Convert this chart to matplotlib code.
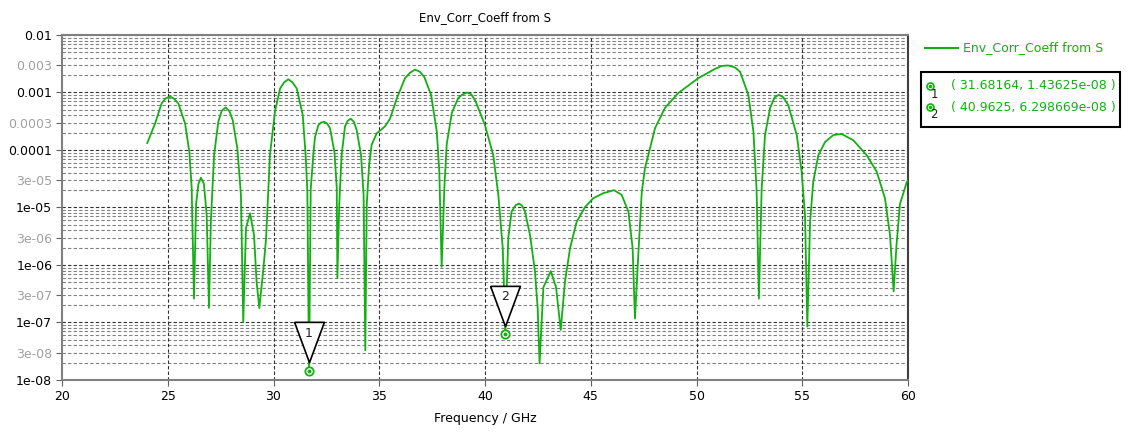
import matplotlib
matplotlib.use("Agg")
import matplotlib.pyplot as plt
from matplotlib.lines import Line2D
from matplotlib.transforms import offset_copy

# === data ===
freq = [24.03, 24.40, 24.71, 24.90, 25.11, 25.30, 25.50, 25.82, 26.02, 26.13, 26.24, 26.34,
        26.45, 26.57, 26.71, 26.84, 26.95, 27.04, 27.19, 27.39, 27.55, 27.74, 27.92, 28.07,
        28.29, 28.46, 28.57, 28.70, 28.89, 29.08, 29.20, 29.33, 29.52, 29.65,
        29.83, 30.07, 30.31, 30.50, 30.70, 30.90, 31.10, 31.38, 31.52, 31.60, 31.68164, 31.76,
        31.88, 31.96, 32.12, 32.25, 32.39, 32.53, 32.67, 32.88, 32.99, 33.02, 33.11, 33.22,
        33.38, 33.50, 33.65, 33.80, 33.93, 34.14, 34.26, 34.34, 34.41, 34.52, 34.64, 34.88,
        35.27, 35.51, 35.83, 36.22, 36.45, 36.69, 36.92, 37.13, 37.45, 37.72, 37.84, 37.95,
        38.08, 38.19, 38.43, 38.74, 38.95, 39.16, 39.35, 39.55, 40.00, 40.39, 40.63, 40.84,
        40.9625, 41.10, 41.26, 41.45, 41.61, 41.75, 41.89, 42.13, 42.36, 42.49, 42.58, 42.76,
        43.11, 43.36, 43.58, 43.78, 44.02, 44.33, 44.73, 45.12, 45.60, 46.10,
        46.46, 46.78, 46.98, 47.09, 47.25, 47.41, 47.56, 47.72, 48.04, 48.51,
        49.14, 50.09, 50.87, 51.20, 51.50, 51.80, 52.06, 52.45, 52.69, 52.84, 52.95, 53.08,
        53.24, 53.48, 53.70, 53.90, 54.10, 54.34, 54.74, 54.97, 55.13, 55.24, 55.37, 55.52,
        55.76, 56.08, 56.47, 56.86, 57.41, 58.05, 58.52, 58.91, 59.15, 59.32,
        59.46, 59.62, 59.94, 60.00]
env_corr = [1.32e-4, 2.88e-4, 6.46e-4, 7.9e-4, 8.51e-4, 7.8e-4, 6.46e-4, 2.88e-4, 9.3e-5, 2.24e-5, 2.6e-7, 1.15e-5,
            2.57e-5, 3.3e-5, 2.57e-5, 7.4e-6, 1.8e-7, 5.9e-6, 8.1e-5, 3.1e-4, 4.8e-4, 5.5e-4, 4.7e-4, 3.3e-4,
            1.07e-4, 1.66e-5, 1.02e-7, 4.4e-6, 7.9e-6, 3.3e-6, 5.1e-7, 1.78e-7, 8.5e-7, 2.9e-6,
            8.1e-5, 4.7e-4, 1.17e-3, 1.5e-3, 1.7e-3, 1.5e-3, 1.17e-3, 4.1e-4, 8.1e-5, 1.9e-5, 1.43625e-8, 2.1e-5,
            8.1e-5, 1.66e-4, 2.7e-4, 3.0e-4, 3.1e-4, 2.9e-4, 2.4e-4, 9.3e-5, 2.24e-5, 5.9e-7, 1.15e-5, 8.1e-5,
            2.57e-4, 3.2e-4, 3.5e-4, 3.1e-4, 2.24e-4, 8.1e-5, 1.66e-5, 3.3e-8, 1.15e-5, 5.5e-5, 1.23e-4, 1.95e-4,
            2.57e-4, 3.5e-4, 7.9e-4, 1.78e-3, 2.2e-3, 2.5e-3, 2.3e-3, 1.86e-3, 9.1e-4, 2.1e-4, 4.2e-5, 9.3e-7,
            2.24e-5, 1.26e-4, 4.4e-4, 8.1e-4, 9.3e-4, 1.0e-3, 9.3e-4, 7.1e-4, 2.7e-4, 8.1e-5, 1.66e-5, 1.95e-6,
            6.298669e-8, 2.95e-6, 8.5e-6, 1.1e-5, 1.17e-5, 1.08e-5, 8.5e-6, 3.3e-6, 7.9e-7, 1.78e-7, 1.95e-8, 4.1e-7,
            7.8e-7, 4.1e-7, 7.4e-8, 5.1e-7, 1.95e-6, 5.6e-6, 1.02e-5, 1.45e-5, 1.78e-5, 2.0e-5,
            1.66e-5, 8.5e-6, 1.95e-6, 1.17e-7, 1.55e-6, 1.8e-5, 4.8e-5, 8.1e-5, 2.4e-4, 5.4e-4,
            9.8e-4, 1.78e-3, 2.57e-3, 2.9e-3, 2.95e-3, 2.75e-3, 2.3e-3, 9.1e-4, 2.1e-4, 2.1e-5, 2.6e-7, 2.1e-5,
            1.82e-4, 5.4e-4, 8.3e-4, 9.1e-4, 8.3e-4, 6.0e-4, 1.82e-4, 4.2e-5, 7.4e-6, 8.5e-8, 5.6e-6, 2.8e-5,
            8.1e-5, 1.38e-4, 1.82e-4, 1.9e-4, 1.48e-4, 8.1e-5, 4.2e-5, 1.45e-5, 3.3e-6, 3.5e-7,
            2.3e-6, 1.15e-5, 2.75e-5, 3.0e-5]

marker_f = [31.68164, 40.9625]
marker_v = [1.43625e-08, 6.298669e-08]
marker_ids = ["1", "2"]

ytick_vals = [1e-8, 3e-8, 1e-7, 3e-7, 1e-6, 3e-6, 1e-5, 3e-5, 1e-4, 3e-4, 1e-3, 3e-3, 1e-2]
ytick_labels = ["1e-08", "3e-08", "1e-07", "3e-07", "1e-06", "3e-06", "1e-05", "3e-05",
                "0.0001", "0.0003", "0.001", "0.003", "0.01"]
xtick_vals = [20, 25, 30, 35, 40, 45, 50, 55, 60]

GREEN = "#12b012"

plt.rcParams["font.family"] = ["DejaVu Sans"]
fig = plt.figure(figsize=(11.31, 4.34), dpi=100)
ax = fig.add_axes([62 / 1131, 1 - 380 / 434, 846 / 1131, 345 / 434])

ax.set_yscale("log")
ax.set_xlim(20, 60)
ax.set_ylim(1e-8, 1e-2)

# grid: decades and 5 GHz lines darker, minor lines grey
for dec in range(-8, -1):
    ax.axhline(10.0 ** dec, color="#303030", lw=0.8, ls=(0, (3, 2)), zorder=1)
    for m in range(2, 10):
        if dec < -2:
            ax.axhline(m * 10.0 ** dec, color="#808080", lw=0.8, ls=(0, (3, 2)), zorder=1)
for xv in xtick_vals[1:-1]:
    ax.axvline(xv, color="#303030", lw=0.8, ls=(0, (3, 2)), zorder=1)

ax.plot(freq, env_corr, color=GREEN, lw=1.3, zorder=3)

# markers
for f, v, lab in zip(marker_f, marker_v, marker_ids):
    ax.plot(f, v, "o", ms=6, mfc="white", mec=GREEN, mew=1.3, zorder=5)
    ax.plot(f, v, "o", ms=1.8, color=GREEN, zorder=6)
    tr = offset_copy(ax.transData, fig=fig, x=0, y=20.5, units="points")
    ax.plot(f, v, marker=[(-0.37, 0.5), (0.37, 0.5), (0, -0.5), (-0.37, 0.5)],
            ms=29, mfc="white", mec="black", mew=1.2, transform=tr, zorder=4)
    tr2 = offset_copy(ax.transData, fig=fig, x=0, y=27, units="points")
    ax.text(f, v, lab, transform=tr2, ha="center", va="center", fontsize=9,
            color="#202020", zorder=7)

ax.set_yticks(ytick_vals)
ax.set_yticklabels(ytick_labels)
ax.yaxis.set_minor_locator(matplotlib.ticker.NullLocator())
for t, lab in zip(ax.get_yticklabels(), ytick_labels):
    t.set_color("#a0a0a0" if lab.startswith("3") or lab.startswith("0.0003") or lab == "0.003" else "black")
ax.set_xticks(xtick_vals)
ax.tick_params(axis="both", labelsize=9, length=4, color="#606060", direction="out", pad=3)

for s in ax.spines.values():
    s.set_color("#808080")
    s.set_linewidth(1.5)
ax.spines["right"].set_color("#404040")

ax.set_title("Env_Corr_Coeff from S", fontsize=8.5, pad=10)
ax.set_xlabel("Frequency / GHz", fontsize=9, labelpad=7)

# legend (drawn by hand to match the layout)
fig.add_artist(Line2D([925 / 1131, 958 / 1131], [1 - 48 / 434, 1 - 48 / 434],
                      color=GREEN, lw=1.5, transform=fig.transFigure))
fig.text(963 / 1131, 1 - 48 / 434, "Env_Corr_Coeff from S", color=GREEN,
         fontsize=9, va="center", ha="left")
box = plt.Rectangle((921 / 1131, 1 - 127 / 434), 199 / 1131, 55 / 434,
                    transform=fig.transFigure, fill=False, ec="black", lw=1.5)
fig.add_artist(box)
for i, (f, v, lab) in enumerate(zip(marker_f, marker_v, marker_ids)):
    yy = 1 - (86 + i * 21) / 434
    fig.add_artist(Line2D([930 / 1131], [yy], marker="o", ms=5, mfc="white",
                          mec=GREEN, mew=1.2, transform=fig.transFigure))
    fig.add_artist(Line2D([930 / 1131], [yy], marker="o", ms=1.5, color=GREEN,
                          transform=fig.transFigure))
    fig.text(934 / 1131, yy - 8 / 434, lab, fontsize=8.5, color="#202020",
             ha="center", va="center")
    fig.text(951 / 1131, yy, f"( {f}, {v} )", color=GREEN,
             fontsize=9, va="center", ha="left")

fig.savefig("out.png", dpi=100, facecolor="white")
